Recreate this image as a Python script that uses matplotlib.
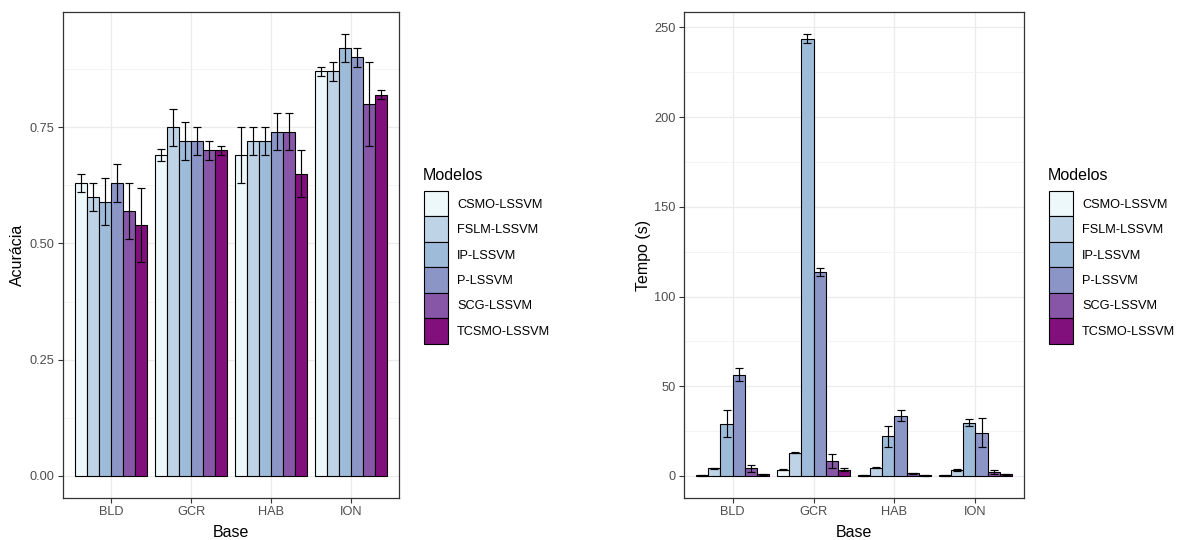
import numpy as np
import matplotlib
matplotlib.use("Agg")
import matplotlib.pyplot as plt
from matplotlib.ticker import MultipleLocator

plt.rcParams['font.family'] = ['Liberation Sans', 'DejaVu Sans']

bases = ["BLD", "GCR", "HAB", "ION"]
modelos = ["CSMO-LSSVM", "FSLM-LSSVM", "IP-LSSVM", "P-LSSVM", "SCG-LSSVM", "TCSMO-LSSVM"]
cores = ["#EDF8FB", "#BFD3E6", "#9EBCDA", "#8C96C6", "#8856A7", "#810F7C"]

# Acurácia média e desvio por modelo (ordem das bases: BLD, GCR, HAB, ION)
acc_csmo = [0.63, 0.69, 0.69, 0.87]
acc_fslm = [0.60, 0.75, 0.72, 0.87]
acc_ip = [0.59, 0.72, 0.72, 0.92]
acc_p = [0.63, 0.72, 0.74, 0.90]
acc_scg = [0.57, 0.70, 0.74, 0.80]
acc_tcsmo = [0.54, 0.70, 0.65, 0.82]

acc_sd_csmo = [0.02, 0.012, 0.06, 0.01]
acc_sd_fslm = [0.03, 0.04, 0.03, 0.02]
acc_sd_ip = [0.05, 0.04, 0.03, 0.03]
acc_sd_p = [0.04, 0.03, 0.04, 0.02]
acc_sd_scg = [0.06, 0.02, 0.04, 0.09]
acc_sd_tcsmo = [0.08, 0.01, 0.05, 0.01]

# Tempo médio (s) e desvio por modelo
tempo_csmo = [0.3, 3.5, 0.3, 0.3]
tempo_fslm = [4.2, 12.9, 4.6, 3.5]
tempo_ip = [29.1, 243.8, 22.2, 29.7]
tempo_p = [56.5, 113.6, 33.6, 24.1]
tempo_scg = [4.2, 8.4, 1.5, 2.4]
tempo_tcsmo = [0.8, 3.5, 0.3, 0.9]

tempo_sd_csmo = [0.1, 0.2, 0.1, 0.1]
tempo_sd_fslm = [0.2, 0.3, 0.4, 0.5]
tempo_sd_ip = [7.4, 2.5, 5.9, 2.0]
tempo_sd_p = [3.5, 2.3, 2.9, 8.0]
tempo_sd_scg = [1.9, 3.8, 0.3, 1.1]
tempo_sd_tcsmo = [0.2, 0.7, 0.1, 0.3]

acc = [acc_csmo, acc_fslm, acc_ip, acc_p, acc_scg, acc_tcsmo]
acc_sd = [acc_sd_csmo, acc_sd_fslm, acc_sd_ip, acc_sd_p, acc_sd_scg, acc_sd_tcsmo]
tempo = [tempo_csmo, tempo_fslm, tempo_ip, tempo_p, tempo_scg, tempo_tcsmo]
tempo_sd = [tempo_sd_csmo, tempo_sd_fslm, tempo_sd_ip, tempo_sd_p, tempo_sd_scg, tempo_sd_tcsmo]

W, H = 1177, 540
TICK_FS = 9.2
TITLE_FS = 11.5
fig = plt.figure(figsize=(W / 100, H / 100), dpi=100)


def px_axes(x0, y0, x1, y1):
    return fig.add_axes([x0 / W, 1 - y1 / H, (x1 - x0) / W, (y1 - y0) / H])


def painel(ax, medias, desvios, ylabel, major, minor, fmt):
    xs = np.arange(1, len(bases) + 1)
    bw = 0.15
    for i, (m, s) in enumerate(zip(medias, desvios)):
        pos = xs + (i - 2.5) * bw
        ax.bar(pos, m, width=bw, color=cores[i], edgecolor="black",
               linewidth=0.8, label=modelos[i], zorder=3)
        ax.errorbar(pos, m, yerr=s, fmt="none", ecolor="black", elinewidth=0.85,
                    capsize=2.6, capthick=0.85, zorder=4)
    top = max(np.max(np.array(m) + np.array(s)) for m, s in zip(medias, desvios))
    ax.set_ylim(-0.05 * top, top * 1.05)
    ax.set_xlim(0.4, len(bases) + 0.6)
    ax.set_xticks(xs)
    ax.set_xticklabels(bases)
    ax.yaxis.set_major_locator(MultipleLocator(major))
    ax.yaxis.set_minor_locator(MultipleLocator(minor))
    ax.yaxis.set_major_formatter(fmt)
    ax.grid(True, which="major", color="#EBEBEB", linewidth=0.9, zorder=0)
    ax.grid(True, which="minor", axis="y", color="#F2F2F2", linewidth=0.6, zorder=0)
    ax.set_axisbelow(True)
    for sp in ax.spines.values():
        sp.set_color("#333333")
        sp.set_linewidth(0.9)
    ax.tick_params(which="major", direction="out", length=3.5, width=0.8,
                   color="#333333", labelcolor="#4D4D4D", labelsize=TICK_FS, pad=2.5)
    ax.tick_params(which="minor", length=0)
    ax.set_xlabel("Base", fontsize=TITLE_FS)
    ax.set_ylabel(ylabel, fontsize=TITLE_FS)
    ax.xaxis.set_label_coords(0.5, -0.07)
    ax.xaxis.label.set_va("center")


ax1 = px_axes(63, 12, 399, 498)
painel(ax1, acc, acc_sd, "Acurácia", 0.25, 0.125, "{x:.2f}")
ax1.yaxis.set_label_coords(-0.135, 0.5)
ax1.yaxis.label.set_va("center")

ax2 = px_axes(684, 12, 1024, 498)
painel(ax2, tempo, tempo_sd, "Tempo (s)", 50, 25, "{x:.0f}")
ax2.yaxis.set_label_coords(-0.12, 0.5)
ax2.yaxis.label.set_va("center")

fs_px = TICK_FS * 100 / 72
for ax, x_leg in ((ax1, 424), (ax2, 1049)):
    leg = ax.legend(loc="upper left", bbox_to_anchor=(x_leg / W, 1 - 191 / H),
                    bbox_transform=fig.transFigure, frameon=False,
                    fontsize=TICK_FS, handlelength=24 / fs_px,
                    handleheight=2.69, labelspacing=0.0,
                    handletextpad=9 / fs_px, borderpad=0.0, borderaxespad=0.0)
    for h in leg.legend_handles:
        h.set_linewidth(0.8)
    fig.text((x_leg - 1) / W, 1 - 176 / H, "Modelos", fontsize=TITLE_FS,
             ha="left", va="center")

fig.savefig("out.png", dpi=100)
